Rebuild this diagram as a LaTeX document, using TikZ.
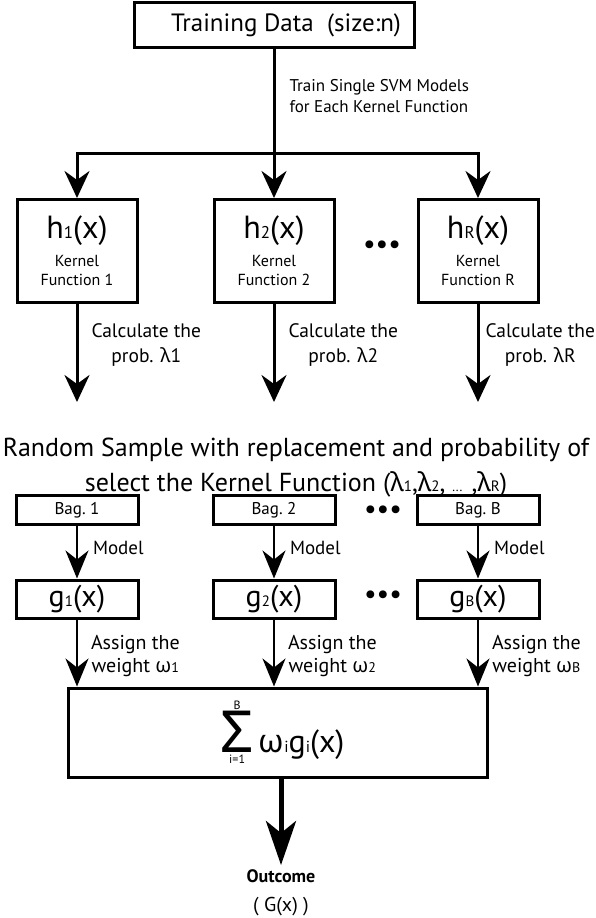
\documentclass[tikz,border=0pt]{standalone}
\usepackage{fontspec}
\setmainfont{PT Sans}
\newfontfamily\grk{Noto Sans}
\usepackage{tikz}
\usetikzlibrary{positioning, calc, arrows.meta}
\newcommand{\fs}[2]{\fontsize{#1}{#2}\selectfont}
\newcommand{\low}[2]{{\fontsize{#1}{#1}\selectfont #2}}

\begin{document}
\begin{tikzpicture}[x=1pt, y=-1pt, on grid, line width=3pt, >={Stealth[length=27pt, width=25pt, inset=9pt]},
		box/.style={draw, line width=3pt, inner sep=0pt, align=center},
		hbox/.style={box, minimum width=120pt, minimum height=103pt, font=\fs{16}{19}},
		bagbox/.style={box, minimum width=122pt, minimum height=29pt, font=\fs{17}{19}},
		gbox/.style={box, minimum width=122pt, minimum height=38pt, font=\fs{30}{30}},
		lbl/.style={align=center, inner sep=0pt, font=\fs{19.5}{25}},
		thinarrow/.style={->, line width=2pt, >={Stealth[length=28pt, width=23pt, inset=9pt]}},
		dots/.style={font=\fs{28}{28}, inner sep=0pt}]
		\useasboundingbox (0,0) rectangle (596,918);

		\node[box, minimum width=280pt, minimum height=45pt, font=\fs{25}{28}] (train) at (274,25) {\hspace{24pt}Training Data~~(size:n)};
		\node[hbox]		(h1) at (77,251)		{\fs{32}{32}h\low{17}{1}(x)\\[9pt]Kernel\\Function 1};
		\node[hbox]		(h2) [right=197pt of h1]	{\fs{32}{32}h\low{17}{2}(x)\\[9pt]Kernel\\Function 2};
		\node[hbox]		(hR) [right=204pt of h2]	{\fs{32}{32}h\low{17}{R}(x)\\[9pt]Kernel\\Function R};
		\node[dots]		(hdots) at (382,247)	{•••};
		\coordinate (split) at (h2.north |- 0,153);

		%Training -> single models:
		\draw (train.south -| split) -- (split) node[pos=.45, right=14pt, align=left, inner sep=0pt, font=\fs{17}{21}] {Train Single SVM Models\\for Each Kernel Function};
		\draw[->] (split) -| (h1);
		\draw[->] (split) -- (h2);
		\draw[->] (split) -| (hR);

		\coordinate[below=151pt of h1] (c1);
		\coordinate[below=151pt of h2] (c2);
		\coordinate[below=151pt of hR] (cR);
		\draw[->] (h1) -- (c1) node[lbl, pos=.42, right=13pt] {Calculate the\\prob. {\grk λ}1};
		\draw[->] (h2) -- (c2) node[lbl, pos=.42, right=13pt] {Calculate the\\prob. {\grk λ}2};
		\draw[->] (hR) -- (cR) node[lbl, pos=.42, right=6pt] {Calculate the\\prob. {\grk λ}R};

		\node[align=center, font=\fs{26}{35}] (sample) at (296,468) {Random Sample with replacement and probability of\\select the Kernel Function ({\grk λ}\low{15}{1},{\grk λ}\low{15}{2}, \low{13}{...} ,{\grk λ}\low{15}{R})};

		\node[bagbox]	(bag1) [below=259pt of h1]	{Bag.\ 1};
		\node[bagbox]	(bag2) [below=259pt of h2]	{Bag.\ 2};
		\node[bagbox]	(bagB) [below=259pt of hR]	{Bag.\ B};
		\node[dots]		(bdots) at (383,512)	{•••};
		\node[gbox]		(g1) [below=89pt of bag1]	{g\low{15}{1}(x)};
		\node[gbox]		(g2) [below=89pt of bag2]	{g\low{15}{2}(x)};
		\node[gbox]		(gB) [below=89pt of bagB]	{g\low{15}{B}(x)};
		\node[dots]		(gdots) at (383,597)	{•••};

		%Bags -> models:
		\draw[thinarrow] (bag1) -- (g1) node[pos=.42, right=15pt, inner sep=0pt, font=\fs{19}{20}] {Model};
		\draw[thinarrow] (bag2) -- (g2) node[pos=.42, right=15pt, inner sep=0pt, font=\fs{19}{20}] {Model};
		\draw[thinarrow] (bagB) -- (gB) node[pos=.42, right=15pt, inner sep=0pt, font=\fs{19}{20}] {Model};

		\node[box, minimum width=419pt, minimum height=89pt, font=\fs{32}{32}] (sum) at (277.5,732.5)
			{\hspace{10pt}$\mathop{\hbox{\fs{58}{58}\grk Σ}}\limits^{\hbox{\fs{12}{12}B}}_{\hbox{\fs{12}{12}\raisebox{-5pt}{i=1}}}$\hspace{5pt}{\grk ω}\low{16}{i}g\low{16}{i}(x)};

		\draw[thinarrow] (g1) -- (g1 |- sum.north) node[lbl, pos=.55, right=13pt, font=\fs{20}{23}] {Assign the\\weight {\grk ω}\low{14}{1}};
		\draw[thinarrow] (g2) -- (g2 |- sum.north) node[lbl, pos=.55, right=13pt, font=\fs{20}{23}] {Assign the\\weight {\grk ω}\low{14}{2}};
		\draw[thinarrow] (gB) -- (gB |- sum.north) node[lbl, pos=.55, right=13pt, font=\fs{20}{23}] {Assign the\\weight {\grk ω}\low{14}{B}};

		\node[align=center, font=\fs{20}{29}] (out) at (281,893) {{\fs{18}{29}\bfseries Outcome}\\( G(x) )};
		\draw[->, line width=5pt, >={Stealth[length=44pt, width=30pt, inset=12pt]}] (sum.south -| out) -- (out);
	\end{tikzpicture}
\end{document}
